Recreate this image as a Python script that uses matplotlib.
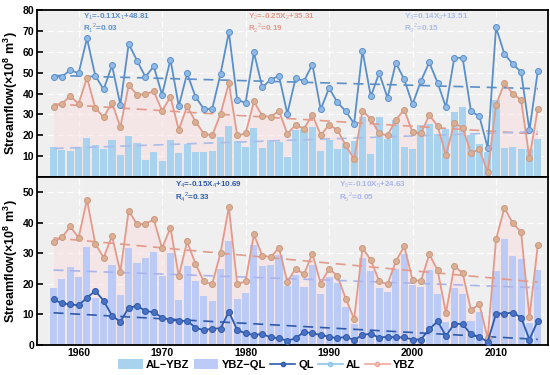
import numpy as np
import matplotlib
matplotlib.use("Agg")
import matplotlib.pyplot as plt
from matplotlib.patches import Patch
from matplotlib.lines import Line2D

plt.rcParams['font.family'] = ['Liberation Sans', 'DejaVu Sans']
plt.rcParams['mathtext.fontset'] = 'custom'
plt.rcParams['mathtext.rm'] = 'Liberation Sans'
plt.rcParams['mathtext.bf'] = 'Liberation Sans:bold'

years = list(range(1957, 2016))

AL = [48.1, 48.0, 51.3, 49.7, 66.5, 48.5, 42.0, 53.5, 34.6, 63.8,
      55.8, 48.0, 53.0, 39.4, 56.3, 34.0, 49.7, 38.5, 32.6, 32.6,
      49.4, 69.5, 37.0, 35.5, 59.8, 43.0, 46.6, 48.5, 30.4, 47.4,
      46.0, 53.9, 32.4, 42.6, 35.8, 31.5, 25.6, 60.6, 38.6, 49.8,
      38.0, 54.7, 46.8, 34.8, 46.0, 54.9, 45.2, 33.5, 57.1, 57.1,
      31.5, 29.1, 14.0, 71.7, 59.0, 54.2, 50.3, 22.4, 50.7]

YBZ = [33.7, 35.2, 38.8, 35.1, 47.6, 33.2, 28.6, 35.7, 23.9, 44.0,
       39.5, 39.7, 41.1, 31.7, 38.4, 22.6, 33.9, 26.6, 20.8, 19.9,
       30.2, 45.1, 19.9, 20.9, 36.2, 29.3, 28.8, 31.8, 20.7, 25.0,
       23.2, 29.9, 20.1, 25.0, 22.6, 15.2, 8.5, 31.8, 27.8, 20.9,
       19.9, 27.4, 32.3, 21.4, 20.9, 29.7, 24.5, 10.5, 25.8, 23.6,
       11.4, 13.4, 2.2, 34.6, 44.9, 39.9, 37.0, 9.1, 32.6]

QL = [14.9, 13.6, 13.3, 13.0, 15.5, 17.7, 14.5, 9.6, 7.6, 12.2,
      12.8, 11.2, 10.7, 9.0, 8.2, 7.9, 7.9, 5.7, 4.8, 5.4,
      5.4, 10.9, 4.9, 3.8, 3.3, 3.6, 2.5, 2.2, 1.4, 2.2,
      4.3, 3.8, 3.3, 2.7, 2.2, 2.7, 1.6, 3.3, 3.7, 2.4,
      2.7, 2.5, 2.5, 1.8, 1.8, 5.1, 7.8, 2.9, 7.0, 6.8,
      3.5, 2.7, 1.0, 10.3, 10.3, 10.6, 9.0, 1.8, 7.9]

AL_YBZ = [14.4, 12.8, 12.5, 14.6, 18.9, 15.3, 13.4, 17.8, 10.7, 19.8,
          16.3, 8.3, 11.9, 7.7, 17.9, 11.4, 15.8, 11.9, 11.8, 12.7,
          19.2, 24.4, 17.1, 14.6, 23.6, 13.7, 17.8, 16.7, 9.7, 22.4,
          22.8, 24.0, 12.3, 17.6, 13.2, 16.3, 17.1, 28.8, 10.8, 28.9,
          18.1, 27.3, 14.5, 13.4, 25.1, 25.2, 20.7, 23.0, 31.3, 33.5,
          20.1, 15.7, 11.8, 37.1, 14.1, 14.3, 13.3, 13.3, 18.1]

YBZ_QL = [18.8, 21.6, 25.5, 22.1, 32.1, 15.5, 14.1, 26.1, 16.3, 31.8,
          26.7, 28.5, 30.4, 22.7, 30.2, 14.7, 26.0, 20.9, 16.0, 14.5,
          24.8, 34.2, 15.0, 17.1, 32.9, 25.7, 26.3, 29.6, 19.3, 22.8,
          18.9, 26.1, 16.8, 22.3, 20.4, 12.5, 6.9, 28.5, 24.1, 18.5,
          17.2, 24.9, 29.8, 19.6, 19.1, 24.6, 16.7, 7.6, 18.8, 16.8,
          7.9, 10.7, 1.2, 24.3, 34.6, 29.3, 28.0, 7.3, 24.7]

# trend equations (slope, intercept), X = 1..n
trend_AL = (-0.11, 48.81)
trend_YBZ = (-0.25, 35.31)
trend_ALYBZ = (0.14, 13.51)
trend_QL = (-0.15, 10.69)
trend_YBZQL = (-0.10, 24.63)

xticks = [1960, 1970, 1980, 1990, 2000, 2010]

c_al = '#5b8fc9'
c_al_m = '#8fb9e6'
c_ybz = '#e39a8a'
c_ybz_m = '#dcae92'
c_ql = '#2f5aab'
c_ql_m = '#4a72c4'
c_bar1 = '#a9d2ef'
c_bar2 = '#bccbf6'
c_t3 = '#a9bde8'
c_t5 = '#aab4ec'
bg = '#efefef'

yrs = np.array(years)
X = np.arange(1, len(years) + 1)

fig = plt.figure(figsize=(5.5, 3.75), dpi=100)
ax1 = fig.add_axes([0.067, 0.528, 0.929, 0.445])
ax2 = fig.add_axes([0.067, 0.080, 0.929, 0.448])

ylab = 'Streamflow(×10$^{\\mathbf{8}}$ m$^{\\mathbf{3}}$)'


def style(ax):
    ax.set_facecolor(bg)
    ax.set_xlim(1955, 2016.2)
    ax.set_xticks(xticks)
    ax.grid(True, color='white', linestyle=(0, (5, 3)), linewidth=0.9)
    ax.set_axisbelow(True)
    for s in ax.spines.values():
        s.set_linewidth(1.3)
        s.set_color('black')
    ax.tick_params(direction='in', length=4, width=1.2, labelsize=7.5, pad=2)
    for lab in ax.get_yticklabels() + ax.get_xticklabels():
        lab.set_fontweight('bold')
    ax.set_ylabel(ylab, fontsize=9, fontweight='bold', labelpad=2)


def dash(ax, coef, color):
    ax.plot(yrs, coef[0] * X + coef[1], color=color, lw=1.2,
            linestyle=(0, (6, 4)), zorder=3)


mk = dict(marker='o', markersize=4.3, markeredgewidth=0.7, lw=1.3, zorder=5)

# ---- top panel
ax1.fill_between(yrs, YBZ, 0, color='#fbd9de', alpha=0.45, lw=0, zorder=1)
ax1.bar(yrs, AL_YBZ, width=0.85, color=c_bar1, zorder=2)
dash(ax1, trend_AL, c_al)
dash(ax1, trend_YBZ, c_ybz)
dash(ax1, trend_ALYBZ, c_t3)
ax1.plot(yrs, AL, color=c_al, markerfacecolor=c_al_m, markeredgecolor=c_al, **mk)
ax1.plot(yrs, YBZ, color=c_ybz, markerfacecolor=c_ybz_m, markeredgecolor='#c79a80', **mk)
ax1.set_ylim(0, 80)
ax1.set_yticks([10, 20, 30, 40, 50, 60, 70, 80])
style(ax1)
ax1.tick_params(labelbottom=False)

eq = dict(fontsize=5.8, fontweight='bold', va='center')
ax1.text(1960.5, 77, 'Y$_1$=-0.11X$_1$+48.81', color=c_al, **eq)
ax1.text(1960.5, 71.5, 'R$_1$$^2$=0.03', color=c_al, **eq)
ax1.text(1980.3, 77, 'Y$_2$=-0.25X$_2$+35.31', color=c_ybz, **eq)
ax1.text(1980.3, 71.5, 'R$_2$$^2$=0.19', color=c_ybz, **eq)
ax1.text(1999.0, 77, 'Y$_3$=0.14X$_3$+13.51', color=c_t3, **eq)
ax1.text(1999.0, 71.5, 'R$_3$$^2$=0.15', color=c_t3, **eq)

# ---- bottom panel
ax2.fill_between(yrs, YBZ, 0, color='#fbd9de', alpha=0.45, lw=0, zorder=1)
ax2.bar(yrs, YBZ_QL, width=0.85, color=c_bar2, zorder=2)
dash(ax2, trend_YBZ, c_ybz)
dash(ax2, trend_YBZQL, c_t5)
dash(ax2, trend_QL, c_ql)
ax2.plot(yrs, YBZ, color=c_ybz, markerfacecolor=c_ybz_m, markeredgecolor='#c79a80', **mk)
ax2.plot(yrs, QL, color=c_ql, markerfacecolor=c_ql_m, markeredgecolor=c_ql, **mk)
ax2.set_ylim(0, 55)
ax2.set_yticks([0, 10, 20, 30, 40, 50])
style(ax2)

ax2.text(1971.5, 52.5, 'Y$_4$=-0.15X$_4$+10.69', color=c_ql, **eq)
ax2.text(1971.5, 48.3, 'R$_4$$^2$=0.33', color=c_ql, **eq)
ax2.text(1991.2, 52.5, 'Y$_5$=-0.10X$_5$+24.63', color=c_t5, **eq)
ax2.text(1991.2, 48.3, 'R$_5$$^2$=0.05', color=c_t5, **eq)

handles = [
    Patch(facecolor=c_bar1, label='AL\u2212YBZ'),
    Patch(facecolor=c_bar2, label='YBZ\u2212QL'),
    Line2D([], [], color=c_ql, marker='o', markersize=3, markerfacecolor=c_ql_m, lw=1.2, label='QL'),
    Line2D([], [], color='#8fc4ea', marker='o', markersize=3, markerfacecolor='#a8d2f0', lw=1.2, label='AL'),
    Line2D([], [], color='#f0a89e', marker='o', markersize=3, markerfacecolor='#f3bdb3', lw=1.2, label='YBZ'),
]
fig.legend(handles=handles, loc='center', bbox_to_anchor=(0.485, 0.028), ncol=5,
           frameon=False, prop={'weight': 'bold', 'size': 8}, handlelength=2.2,
           handleheight=0.9, columnspacing=0.4, handletextpad=0.3,
           borderpad=0.1)

fig.savefig('out.png', dpi=100)
